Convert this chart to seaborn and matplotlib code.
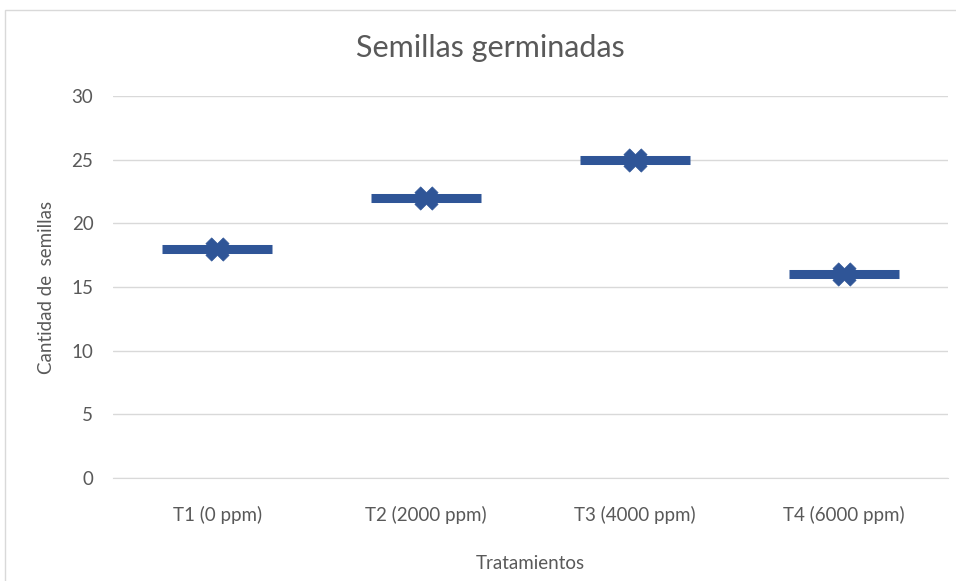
import matplotlib.pyplot as plt
import matplotlib.patches as mpatches
import pandas as pd
import seaborn as sns

# data
tratamientos = ['T1 (0 ppm)', 'T2 (2000 ppm)', 'T3 (4000 ppm)', 'T4 (6000 ppm)']
semillas = [18, 22, 25, 16]
y_ticks = [0, 5, 10, 15, 20, 25, 30]

df = pd.DataFrame({'Tratamientos': tratamientos, 'Semillas': semillas})

sns.set_style('white')
plt.rcParams['font.family'] = ['Lato', 'DejaVu Sans']

blue = '#2F5597'
grey_txt = '#595959'

fig = plt.figure(figsize=(9.56, 5.81), dpi=100)
ax = fig.add_axes([0.118, 0.177, 0.874, 0.658])

# chart frame like Excel
fig.patches.append(mpatches.Rectangle((0.005, -0.2), 1.2, 1.183, transform=fig.transFigure,
                                      fill=False, edgecolor='#D9D9D9', linewidth=1))

# thick dash marker
sns.scatterplot(data=df, x='Tratamientos', y='Semillas', marker='_', s=6300,
                color=blue, linewidth=6.5, ax=ax, zorder=3)
# X marker in the middle
sns.scatterplot(data=df, x='Tratamientos', y='Semillas', marker='X', s=280,
                color=blue, edgecolor=blue, linewidth=0.5, ax=ax, zorder=4)

ax.set_xlim(-0.5, len(tratamientos) - 0.5)
ax.set_ylim(0, 30)
ax.set_yticks(y_ticks)
ax.grid(True, axis='y', color='#D9D9D9', linewidth=1)
ax.set_axisbelow(True)
for s in ['top', 'right', 'left']:
    ax.spines[s].set_visible(False)
ax.spines['bottom'].set_color('#D9D9D9')
ax.tick_params(axis='both', length=0, labelsize=13.5, colors=grey_txt)
ax.tick_params(axis='y', pad=14)
ax.tick_params(axis='x', pad=20)

ax.set_title('Semillas germinadas', fontsize=22, color=grey_txt, pad=28, x=0.452)
ax.set_xlabel('Tratamientos', fontsize=13.5, color=grey_txt, labelpad=22)
ax.set_ylabel('Cantidad de  semillas', fontsize=13.5, color=grey_txt, labelpad=12)

plt.savefig('out.png', dpi=100)
